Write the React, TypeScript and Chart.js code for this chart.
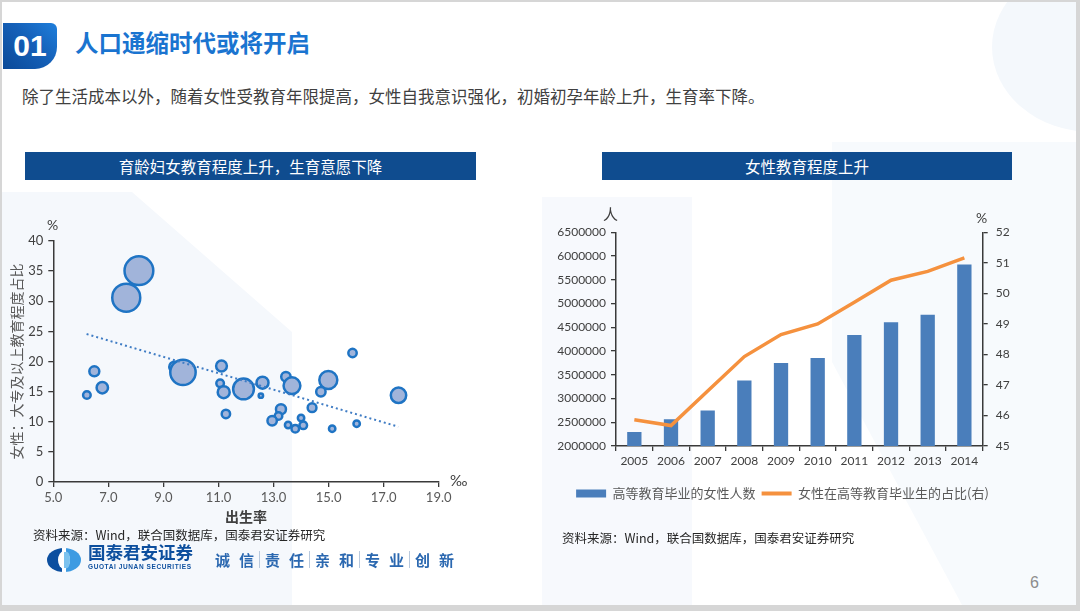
import React, { useEffect, useRef } from "react";
import { Chart, registerables } from "chart.js";

Chart.register(...registerables);

// ---------- Left chart data (bubble) ----------
const birthRate = [8.11, 7.65, 6.49, 6.78, 6.22, 9.40, 9.71, 11.11, 11.06, 11.19, 11.27, 11.91, 12.6, 12.54, 13.45, 13.67, 14.99, 14.72, 15.87, 17.54, 13.27, 13.18, 12.95, 14.4, 14.0, 14.08, 13.53, 13.79, 15.13, 16.02];
const eduShare = [35.07, 30.6, 18.37, 15.65, 14.44, 19.1, 18.2, 19.25, 16.38, 14.9, 11.29, 15.44, 16.48, 14.33, 17.48, 15.98, 16.93, 14.99, 21.41, 14.39, 12.07, 10.95, 10.17, 12.33, 10.62, 9.41, 9.46, 8.85, 8.85, 9.68];
const bubbleRadius = [14.4, 14, 5, 5.7, 3.8, 5.2, 12.7, 5.4, 3.8, 6, 4.2, 10.4, 6, 2.2, 4.7, 8.4, 9, 4.7, 4.2, 7.7, 5, 3.8, 4.7, 4.4, 3.2, 3.8, 3.2, 3.8, 3.2, 3.2];
const trendX = [6.21, 17.53];
const trendY = [24.56, 9.18];
const scatterXRange = [5, 19, 2];
const scatterYRange = [0, 40, 5];

// ---------- Right chart data (bar + line) ----------
const years = ["2005", "2006", "2007", "2008", "2009", "2010", "2011", "2012", "2013", "2014"];
const femaleGrads = [2296000, 2565000, 2747000, 3380000, 3748000, 3854000, 4340000, 4607000, 4763000, 5820000];
const femaleShare = [45.86, 45.67, 46.8, 47.93, 48.65, 49.0, 49.71, 50.43, 50.72, 51.16];
const gradsRange = [2000000, 6500000, 500000];
const shareRange = [45, 52, 1];
const seriesNames = ["高等教育毕业的女性人数", "女性在高等教育毕业生的占比(右)"];

const NUM_FONT = "Lato, 'Open Sans', sans-serif";
const CJK_FONT = "'Noto Sans CJK SC', 'Noto Sans', sans-serif";
const AXIS = "#3a3a3a";

function ScatterChart() {
  const ref = useRef<HTMLCanvasElement>(null);
  useEffect(() => {
    const ctx = ref.current!.getContext("2d")!;
    const chart = new Chart(ctx, {
      type: "bubble",
      data: {
        datasets: [
          {
            type: "line",
            data: trendX.map((x, i) => ({ x, y: trendY[i] })),
            borderColor: "#3f7cc4",
            borderWidth: 2,
            borderDash: [2, 3],
            pointRadius: 0,
            fill: false,
            order: 0,
          } as any,
          {
            type: "bubble",
            data: birthRate.map((x, i) => ({ x, y: eduShare[i], r: bubbleRadius[i] })),
            backgroundColor: "#a1b4da",
            borderColor: "#1f74c4",
            borderWidth: 2.5,
            order: 1,
          },
        ],
      },
      options: {
        animation: false,
        responsive: false,
        maintainAspectRatio: false,
        layout: { padding: { top: 41, right: 41.3, left: 0, bottom: 0 } },
        plugins: { legend: { display: false }, tooltip: { enabled: false } },
        scales: {
          x: {
            type: "linear",
            min: scatterXRange[0],
            max: scatterXRange[1],
            ticks: {
              stepSize: scatterXRange[2],
              callback: (v: any) => Number(v).toFixed(1),
              color: "#595959",
              font: { family: NUM_FONT, size: 13 },
              padding: 3,
            },
            grid: { display: true, drawOnChartArea: false, drawTicks: true, tickLength: 5, color: AXIS, lineWidth: 1.3 },
            border: { display: true, color: AXIS, width: 1.5 },
            title: {
              display: true,
              text: "出生率",
              color: "#404040",
              font: { family: CJK_FONT, size: 14, weight: "bold" },
              padding: { top: 0, bottom: 5 },
            },
            afterFit: (s: any) => {
              s.height = 48;
            },
          },
          y: {
            type: "linear",
            min: scatterYRange[0],
            max: scatterYRange[1],
            ticks: {
              stepSize: scatterYRange[2],
              color: "#404040",
              font: { family: NUM_FONT, size: 13 },
              padding: 5,
            },
            grid: { display: true, drawOnChartArea: false, drawTicks: true, tickLength: 5, color: AXIS, lineWidth: 1.3 },
            border: { display: true, color: AXIS, width: 1.5 },
            title: {
              display: true,
              text: "女性：大专及以上教育程度占比",
              color: "#595959",
              font: { family: CJK_FONT, size: 14 },
              padding: { top: 8, bottom: 0 },
            },
            afterFit: (s: any) => {
              s.width = 53.3;
            },
          },
        },
      } as any,
    });
    return () => chart.destroy();
  }, []);
  return <canvas ref={ref} width={480} height={330} style={{ position: "absolute", left: 0, top: 200, width: 480, height: 330 }} />;
}

function ComboChart() {
  const ref = useRef<HTMLCanvasElement>(null);
  useEffect(() => {
    const ctx = ref.current!.getContext("2d")!;
    const chart = new Chart(ctx, {
      type: "bar",
      data: {
        labels: years,
        datasets: [
          {
            type: "bar",
            label: seriesNames[0],
            data: femaleGrads,
            backgroundColor: "#4a7ebb",
            yAxisID: "y",
            barPercentage: 0.39,
            categoryPercentage: 1,
            order: 2,
          },
          {
            type: "line",
            label: seriesNames[1],
            data: femaleShare,
            borderColor: "#f5913e",
            backgroundColor: "#f5913e",
            borderWidth: 3.5,
            pointRadius: 0,
            tension: 0,
            yAxisID: "y1",
            order: 1,
          } as any,
        ],
      },
      options: {
        animation: false,
        responsive: false,
        maintainAspectRatio: false,
        layout: { padding: { top: 37.3, right: 55, left: 0, bottom: 0 } },
        plugins: {
          tooltip: { enabled: false },
          legend: {
            position: "bottom",
            labels: {
              usePointStyle: true,
              pointStyleWidth: 30,
              boxHeight: 8,
              padding: 6,
              color: "#595959",
              font: { family: CJK_FONT, size: 13 },
              generateLabels: (c: any) =>
                c.data.datasets.map((ds: any, i: number) => ({
                  text: ds.label,
                  fillStyle: i === 0 ? "#4a7ebb" : "#f5913e",
                  strokeStyle: i === 0 ? "#4a7ebb" : "#f5913e",
                  lineWidth: i === 0 ? 0 : 4,
                  pointStyle: i === 0 ? "rect" : "line",
                  hidden: false,
                  datasetIndex: i,
                  fontColor: "#595959",
                })),
            },
          },
        },
        scales: {
          x: {
            ticks: { color: "#404040", font: { family: NUM_FONT, size: 12 }, padding: 3 },
            grid: { display: true, offset: true, drawOnChartArea: false, drawTicks: true, tickLength: 5, color: AXIS, lineWidth: 1.3 },
            border: { display: true, color: AXIS, width: 1.5 },
            afterFit: (s: any) => {
              s.height = 35;
            },
          },
          y: {
            position: "left",
            min: gradsRange[0],
            max: gradsRange[1],
            ticks: {
              stepSize: gradsRange[2],
              callback: (v: any) => String(v),
              color: "#404040",
              font: { family: NUM_FONT, size: 12 },
              padding: 5,
            },
            grid: { display: true, drawOnChartArea: false, drawTicks: true, tickLength: 5, color: AXIS, lineWidth: 1.3 },
            border: { display: true, color: AXIS, width: 1.5 },
            afterFit: (s: any) => {
              s.width = 76;
            },
          },
          y1: {
            position: "right",
            min: shareRange[0],
            max: shareRange[1],
            ticks: {
              stepSize: shareRange[2],
              color: "#404040",
              font: { family: NUM_FONT, size: 12 },
              padding: 8,
            },
            grid: { display: true, drawOnChartArea: false, drawTicks: true, tickLength: 5, color: AXIS, lineWidth: 1.3 },
            border: { display: true, color: AXIS, width: 1.5 },
            afterFit: (s: any) => {
              s.width = 42.3;
            },
          },
        },
      } as any,
    });
    return () => chart.destroy();
  }, []);
  return <canvas ref={ref} width={540} height={315} style={{ position: "absolute", left: 540, top: 195, width: 540, height: 315 }} />;
}

const abs = (s: React.CSSProperties): React.CSSProperties => ({ position: "absolute", ...s });

function Slogan() {
  const items = ["诚信", "责任", "亲和", "专业", "创新"];
  return (
    <div style={abs({ left: 215, top: 549, height: 20, display: "flex", alignItems: "center", fontFamily: CJK_FONT, fontWeight: 700, fontSize: 15, color: "#2b68b0", whiteSpace: "nowrap" })}>
      {items.map((t, i) => (
        <React.Fragment key={i}>
          {i > 0 && <span style={{ display: "inline-block", width: 1, height: 17, background: "#b9c9dd", margin: "0 5px" }} />}
          <span style={{ letterSpacing: 9, marginRight: -9 }}>{t}</span>
        </React.Fragment>
      ))}
    </div>
  );
}

export default function App() {
  return (
    <div style={abs({ left: 0, top: 0, width: 1080, height: 611, background: "#d6d6d6", overflow: "hidden", fontFamily: CJK_FONT, position: "fixed" })}>
      <div style={abs({ left: 2, top: 2, width: 1074, height: 603, background: "#ffffff", overflow: "hidden" })}>
        {/* faint watermark shapes */}
        <div style={abs({ left: 0, top: 0, width: 1074, height: 603, background: "#f5f8fc", clipPath: "polygon(0 190px, 130px 190px, 290px 330px, 290px 603px, 0 603px)" })} />
        <div style={abs({ left: 0, top: 0, width: 1074, height: 603, background: "#f7f9fd", clipPath: "polygon(540px 195px, 690px 195px, 690px 603px, 540px 603px)" })} />
        <div style={abs({ left: 0, top: 0, width: 1074, height: 603, background: "#f7fafd", clipPath: "polygon(830px 140px, 1074px 140px, 1074px 603px, 960px 603px, 830px 360px)" })} />
        <div style={abs({ left: 990, top: -40, width: 200, height: 170, borderRadius: "50%", background: "#f4f8fc" })} />
      </div>

      {/* Section number */}
      <div
        style={abs({
          left: 3,
          top: 23,
          width: 54,
          height: 46,
          borderRadius: "0 6px 22px 0",
          background: "linear-gradient(225deg, #1f7fdc 0%, #1560b8 45%, #0b4a98 100%)",
          color: "#fff",
          fontFamily: "'Liberation Sans', Arial, sans-serif",
          fontWeight: 700,
          fontSize: 30,
          lineHeight: "46px",
          textAlign: "center",
        })}
      >
        01
      </div>
      <div style={abs({ left: 75, top: 27, fontSize: 23.5, fontWeight: 700, color: "#1a74d0", lineHeight: "30px", whiteSpace: "nowrap" })}>人口通缩时代或将开启</div>
      <div style={abs({ left: 22, top: 85, fontSize: 16.5, color: "#404040", lineHeight: "22px", whiteSpace: "nowrap" })}>
        除了生活成本以外，随着女性受教育年限提高，女性自我意识强化，初婚初孕年龄上升，生育率下降。
      </div>

      {/* Header bars */}
      <div style={abs({ left: 25, top: 152, width: 451, height: 28, background: "#0f4c8f", color: "#fff", fontSize: 15.5, lineHeight: "28px", textAlign: "center" })}>
        育龄妇女教育程度上升，生育意愿下降
      </div>
      <div style={abs({ left: 602, top: 152, width: 410, height: 28, background: "#0f4c8f", color: "#fff", fontSize: 15.5, lineHeight: "28px", textAlign: "center" })}>
        女性教育程度上升
      </div>

      <ScatterChart />
      <div style={abs({ left: 47, top: 216, fontSize: 14, color: "#404040", fontFamily: NUM_FONT, lineHeight: "18px" })}>%</div>
      <div style={abs({ left: 450, top: 471, fontSize: 15, color: "#404040", fontFamily: NUM_FONT, lineHeight: "18px" })}>‰</div>
      <div style={abs({ left: 33, top: 526, fontSize: 12.5, color: "#262626", lineHeight: "18px", whiteSpace: "nowrap" })}>资料来源：Wind，联合国数据库，国泰君安证券研究</div>

      <ComboChart />
      <div style={abs({ left: 603, top: 204, fontSize: 15, color: "#404040", lineHeight: "20px" })}>人</div>
      <div style={abs({ left: 976, top: 209, fontSize: 14, color: "#404040", fontFamily: NUM_FONT, lineHeight: "18px" })}>%</div>
      <div style={abs({ left: 562, top: 529, fontSize: 12.5, color: "#262626", lineHeight: "18px", whiteSpace: "nowrap" })}>资料来源：Wind，联合国数据库，国泰君安证券研究</div>

      {/* Footer logo */}
      <div style={abs({ left: 47, top: 548, width: 34, height: 24, borderRadius: "50%", background: "linear-gradient(90deg, #0c4f9f 0 44%, #ffffff 44% 56%, #3d9be2 56%)" })} />
      <div style={abs({ left: 58, top: 551, width: 12, height: 18, borderRadius: "50%", background: "#ffffff" })} />
      <div style={abs({ left: 64, top: 552, width: 6, height: 16, borderRadius: "0 50% 50% 0", background: "#7cc2ee" })} />
      <div style={abs({ left: 88, top: 541, fontSize: 17.5, fontWeight: 700, color: "#0d4f9e", lineHeight: "22px", whiteSpace: "nowrap" })}>国泰君安证券</div>
      <div style={abs({ left: 88, top: 563, fontSize: 6.5, fontWeight: 700, color: "#0d4f9e", lineHeight: "8px", letterSpacing: 0.6, fontFamily: "'Liberation Sans', sans-serif", whiteSpace: "nowrap" })}>GUOTAI JUNAN SECURITIES</div>
      <Slogan />

      <div style={abs({ left: 1030, top: 573, fontSize: 16, color: "#8c8c8c", fontFamily: "'Liberation Sans', sans-serif", lineHeight: "20px" })}>6</div>
    </div>
  );
}
